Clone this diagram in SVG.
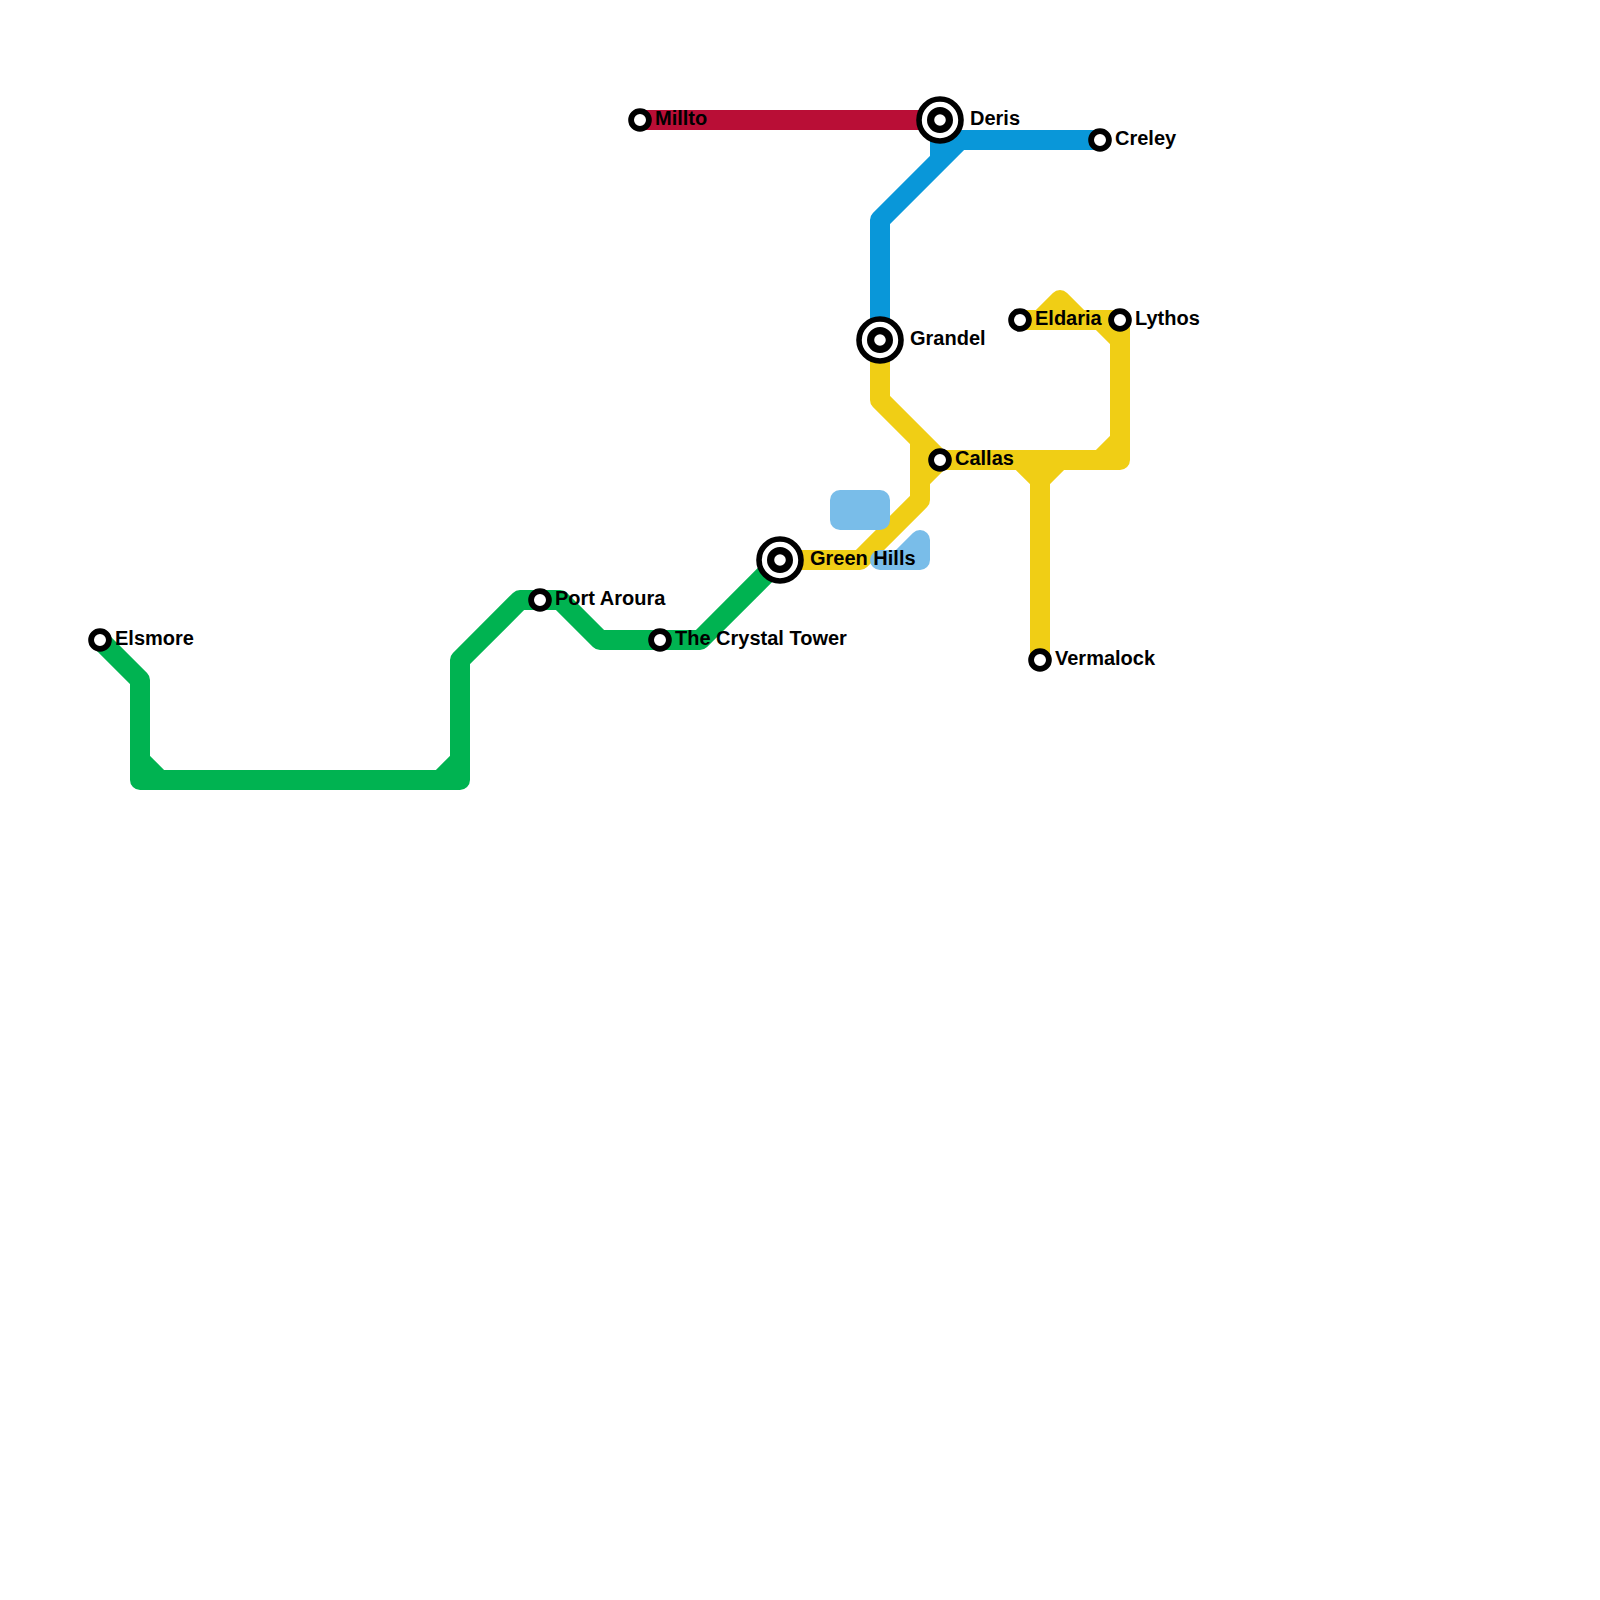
<svg xmlns="http://www.w3.org/2000/svg" width="1600" height="1600" viewBox="0 0 1600 1600">
<style>
.l{fill:none;stroke-width:20;stroke-linejoin:round;stroke-linecap:round}
.g{stroke:#00b351}.y{stroke:#f0ce15}.b{stroke:#0997d9}.r{stroke:#b90e36}.w{stroke:#79bde9}
.s{fill:#fff;stroke:#000;stroke-width:5.8}
.o{fill:#fff;stroke:#000;stroke-width:5.6}
.i{fill:#fff;stroke:#000;stroke-width:7.2}
text{font-family:"Liberation Sans",Arial,sans-serif;font-size:20px;font-weight:700;fill:#000}
</style>
<rect width="1600" height="1600" fill="#fff"/>
<g id="connectors">
<path class="l r" d="M640 120H940"/>
<path class="l b" d="M1100 140H960L880 220V340M940 120V160"/>
<path class="l g" d="M100 640L140 680V780H460V660L520 600H560L600 640H700L780 560M140 760L160 780M440 780L460 760"/>
<path class="l y" d="M880 340V400L940 460M780 560H860L920 500V440M920 480L940 460H1120V320H1020M1100 460L1120 440M1100 320L1120 340M1040 320L1060 300L1080 320M1040 660V480M1020 460L1040 480L1060 460"/>
<path class="l w" d="M840 500H880V520H840Z"/>
<path class="l w" d="M880 560H920V540L900 560"/>
</g>
<g id="elsmore"><circle class="s" cx="100" cy="640" r="8.9"/><text x="115" y="645">Elsmore</text></g>
<g id="port-aroura"><circle class="s" cx="540" cy="600" r="8.9"/><text x="555" y="605">Port Aroura</text></g>
<g id="crystal-tower"><circle class="s" cx="660" cy="640" r="8.9"/><text x="675" y="645">The Crystal Tower</text></g>
<g id="green-hills"><circle class="o" cx="780" cy="560" r="21"/><circle class="i" cx="780" cy="560" r="9.4"/><text x="810" y="565">Green Hills</text></g>
<g id="millto"><circle class="s" cx="640" cy="120" r="8.9"/><text x="655" y="125">Millto</text></g>
<g id="deris"><circle class="o" cx="940" cy="120" r="21"/><circle class="i" cx="940" cy="120" r="9.4"/><text x="970" y="125">Deris</text></g>
<g id="creley"><circle class="s" cx="1100" cy="140" r="8.9"/><text x="1115" y="145">Creley</text></g>
<g id="grandel"><circle class="o" cx="880" cy="340" r="21"/><circle class="i" cx="880" cy="340" r="9.4"/><text x="910" y="345">Grandel</text></g>
<g id="eldaria"><circle class="s" cx="1020" cy="320" r="8.9"/><text x="1035" y="325">Eldaria</text></g>
<g id="lythos"><circle class="s" cx="1120" cy="320" r="8.9"/><text x="1135" y="325">Lythos</text></g>
<g id="callas"><circle class="s" cx="940" cy="460" r="8.9"/><text x="955" y="465">Callas</text></g>
<g id="vermalock"><circle class="s" cx="1040" cy="660" r="8.9"/><text x="1055" y="665">Vermalock</text></g>
</svg>
